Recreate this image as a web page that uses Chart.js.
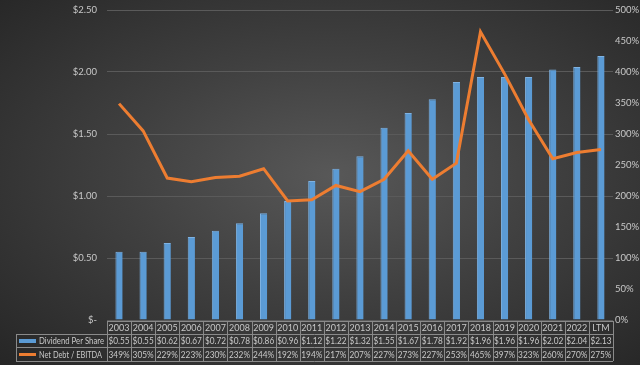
<!DOCTYPE html>
<html>
<head>
<meta charset="utf-8">
<script src="https://cdn.jsdelivr.net/npm/chart.js@4"></script>
<style>
  html, body { margin: 0; padding: 0; }
  body {
    width: 640px; height: 365px; overflow: hidden;
    background: radial-gradient(ellipse at 52% 48%, #585858 0%, #404040 45%, #262626 100%);
  }
  #wrap { position: relative; width: 640px; height: 365px; }
</style>
</head>
<body>
<div id="wrap"><canvas id="chart" width="640" height="365"></canvas></div>
<script>
const years = ['2003', '2004', '2005', '2006', '2007', '2008', '2009', '2010', '2011', '2012', '2013',
    '2014', '2015', '2016', '2017', '2018', '2019', '2020', '2021', '2022', 'LTM'];
const dividend = [0.55, 0.55, 0.62, 0.67, 0.72, 0.78, 0.86, 0.96, 1.12, 1.22, 1.32,
    1.55, 1.67, 1.78, 1.92, 1.96, 1.96, 1.96, 2.02, 2.04, 2.13];
const leverage = [349, 305, 229, 223, 230, 232, 244, 192, 194, 217, 207,
    227, 273, 227, 253, 465, 397, 323, 260, 270, 275];

const textColor = '#c8c8c8';
const fontFamily = 'Lato, "Liberation Sans", sans-serif';

// data table under the plot
const tablePlugin = {
    id: 'dataTable',
    afterDraw(chart) {
        const c = chart.ctx;
        const x = chart.scales.x;
        const half = (x.getPixelForValue(1) - x.getPixelForValue(0)) / 2;
        const left = 16;
        const first = x.getPixelForValue(0) - half;
        const last = x.getPixelForValue(years.length - 1) + half;
        const rows = [321, 334, 347, 361];
        c.save();
        c.strokeStyle = '#8a8a8a';
        c.lineWidth = 1;
        c.beginPath();
        c.moveTo(first, rows[0] + 0.5); c.lineTo(last, rows[0] + 0.5);
        for (let r = 1; r < rows.length; r++) {
            c.moveTo(left, rows[r] + 0.5); c.lineTo(last, rows[r] + 0.5);
        }
        for (let i = 0; i <= years.length; i++) {
            const px = Math.round(first + i * half * 2) + 0.5;
            c.moveTo(px, rows[0]); c.lineTo(px, rows[3]);
        }
        c.moveTo(left + 0.5, rows[1]); c.lineTo(left + 0.5, rows[3]);
        c.stroke();

        c.fillStyle = textColor;
        c.font = '9px ' + fontFamily;
        c.textAlign = 'center';
        c.textBaseline = 'middle';
        const mw = half * 2 - 3;
        years.forEach((y, i) => {
            const cx = x.getPixelForValue(i);
            c.fillText(y, cx, (rows[0] + rows[1]) / 2 + 1, mw);
            c.fillText('$' + dividend[i].toFixed(2), cx, (rows[1] + rows[2]) / 2 + 1, mw);
            c.fillText(leverage[i] + '%', cx, (rows[2] + rows[3]) / 2 + 1, mw);
        });
        // legend keys
        c.textAlign = 'left';
        c.fillStyle = '#5b9bd5';
        c.fillRect(19, 339, 17, 4);
        c.strokeStyle = '#ed7d31';
        c.lineWidth = 3;
        c.beginPath();
        c.moveTo(19, 354.5); c.lineTo(36, 354.5);
        c.stroke();
        c.fillStyle = textColor;
        c.fillText('Dividend Per Share', 39, (rows[1] + rows[2]) / 2 + 1, 65);
        c.fillText('Net Debt / EBITDA', 39, (rows[2] + rows[3]) / 2 + 1, 63);
        c.restore();
    }
};

const fixWidth = (w) => (s) => {
    s.width = w;
    s.paddingTop = 0;
    s.paddingBottom = 0;
};

new Chart(document.getElementById('chart'), {
    data: {
        labels: years,
        datasets: [
            {
                type: 'line',
                label: 'Net Debt / EBITDA',
                data: leverage,
                yAxisID: 'y1',
                borderColor: '#ed7d31',
                borderWidth: 3,
                pointRadius: 0,
                tension: 0,
                order: 0
            },
            {
                type: 'bar',
                label: 'Dividend Per Share',
                data: dividend,
                yAxisID: 'y',
                backgroundColor: '#5b9bd5',
                borderColor: '#7eb2e2',
                borderWidth: { top: 1, left: 1, right: 0, bottom: 0 },
                barPercentage: 0.3,
                categoryPercentage: 1,
                order: 1
            }
        ]
    },
    options: {
        responsive: false,
        animation: false,
        devicePixelRatio: 1,
        layout: { padding: { top: 10, bottom: 45, left: 0, right: 0 } },
        plugins: {
            legend: { display: false },
            tooltip: { enabled: false }
        },
        scales: {
            x: {
                display: false,
                offset: true,
                grid: { display: false }
            },
            y: {
                position: 'left',
                min: 0,
                max: 2.5,
                ticks: {
                    stepSize: 0.5,
                    color: textColor,
                    font: { family: fontFamily, size: 9.5 },
                    padding: 10,
                    callback: (v) => v === 0 ? '$-' : '$' + v.toFixed(2)
                },
                grid: { color: '#5a5a5a', drawTicks: false },
                border: { display: false },
                afterFit: fixWidth(107)
            },
            y1: {
                position: 'right',
                min: 0,
                max: 500,
                ticks: {
                    stepSize: 50,
                    color: textColor,
                    font: { family: fontFamily, size: 9.5 },
                    padding: 2,
                    callback: (v) => v + '%'
                },
                grid: { display: false, drawTicks: false },
                border: { display: false },
                afterFit: fixWidth(27)
            }
        }
    },
    plugins: [tablePlugin]
});
</script>
</body>
</html>
